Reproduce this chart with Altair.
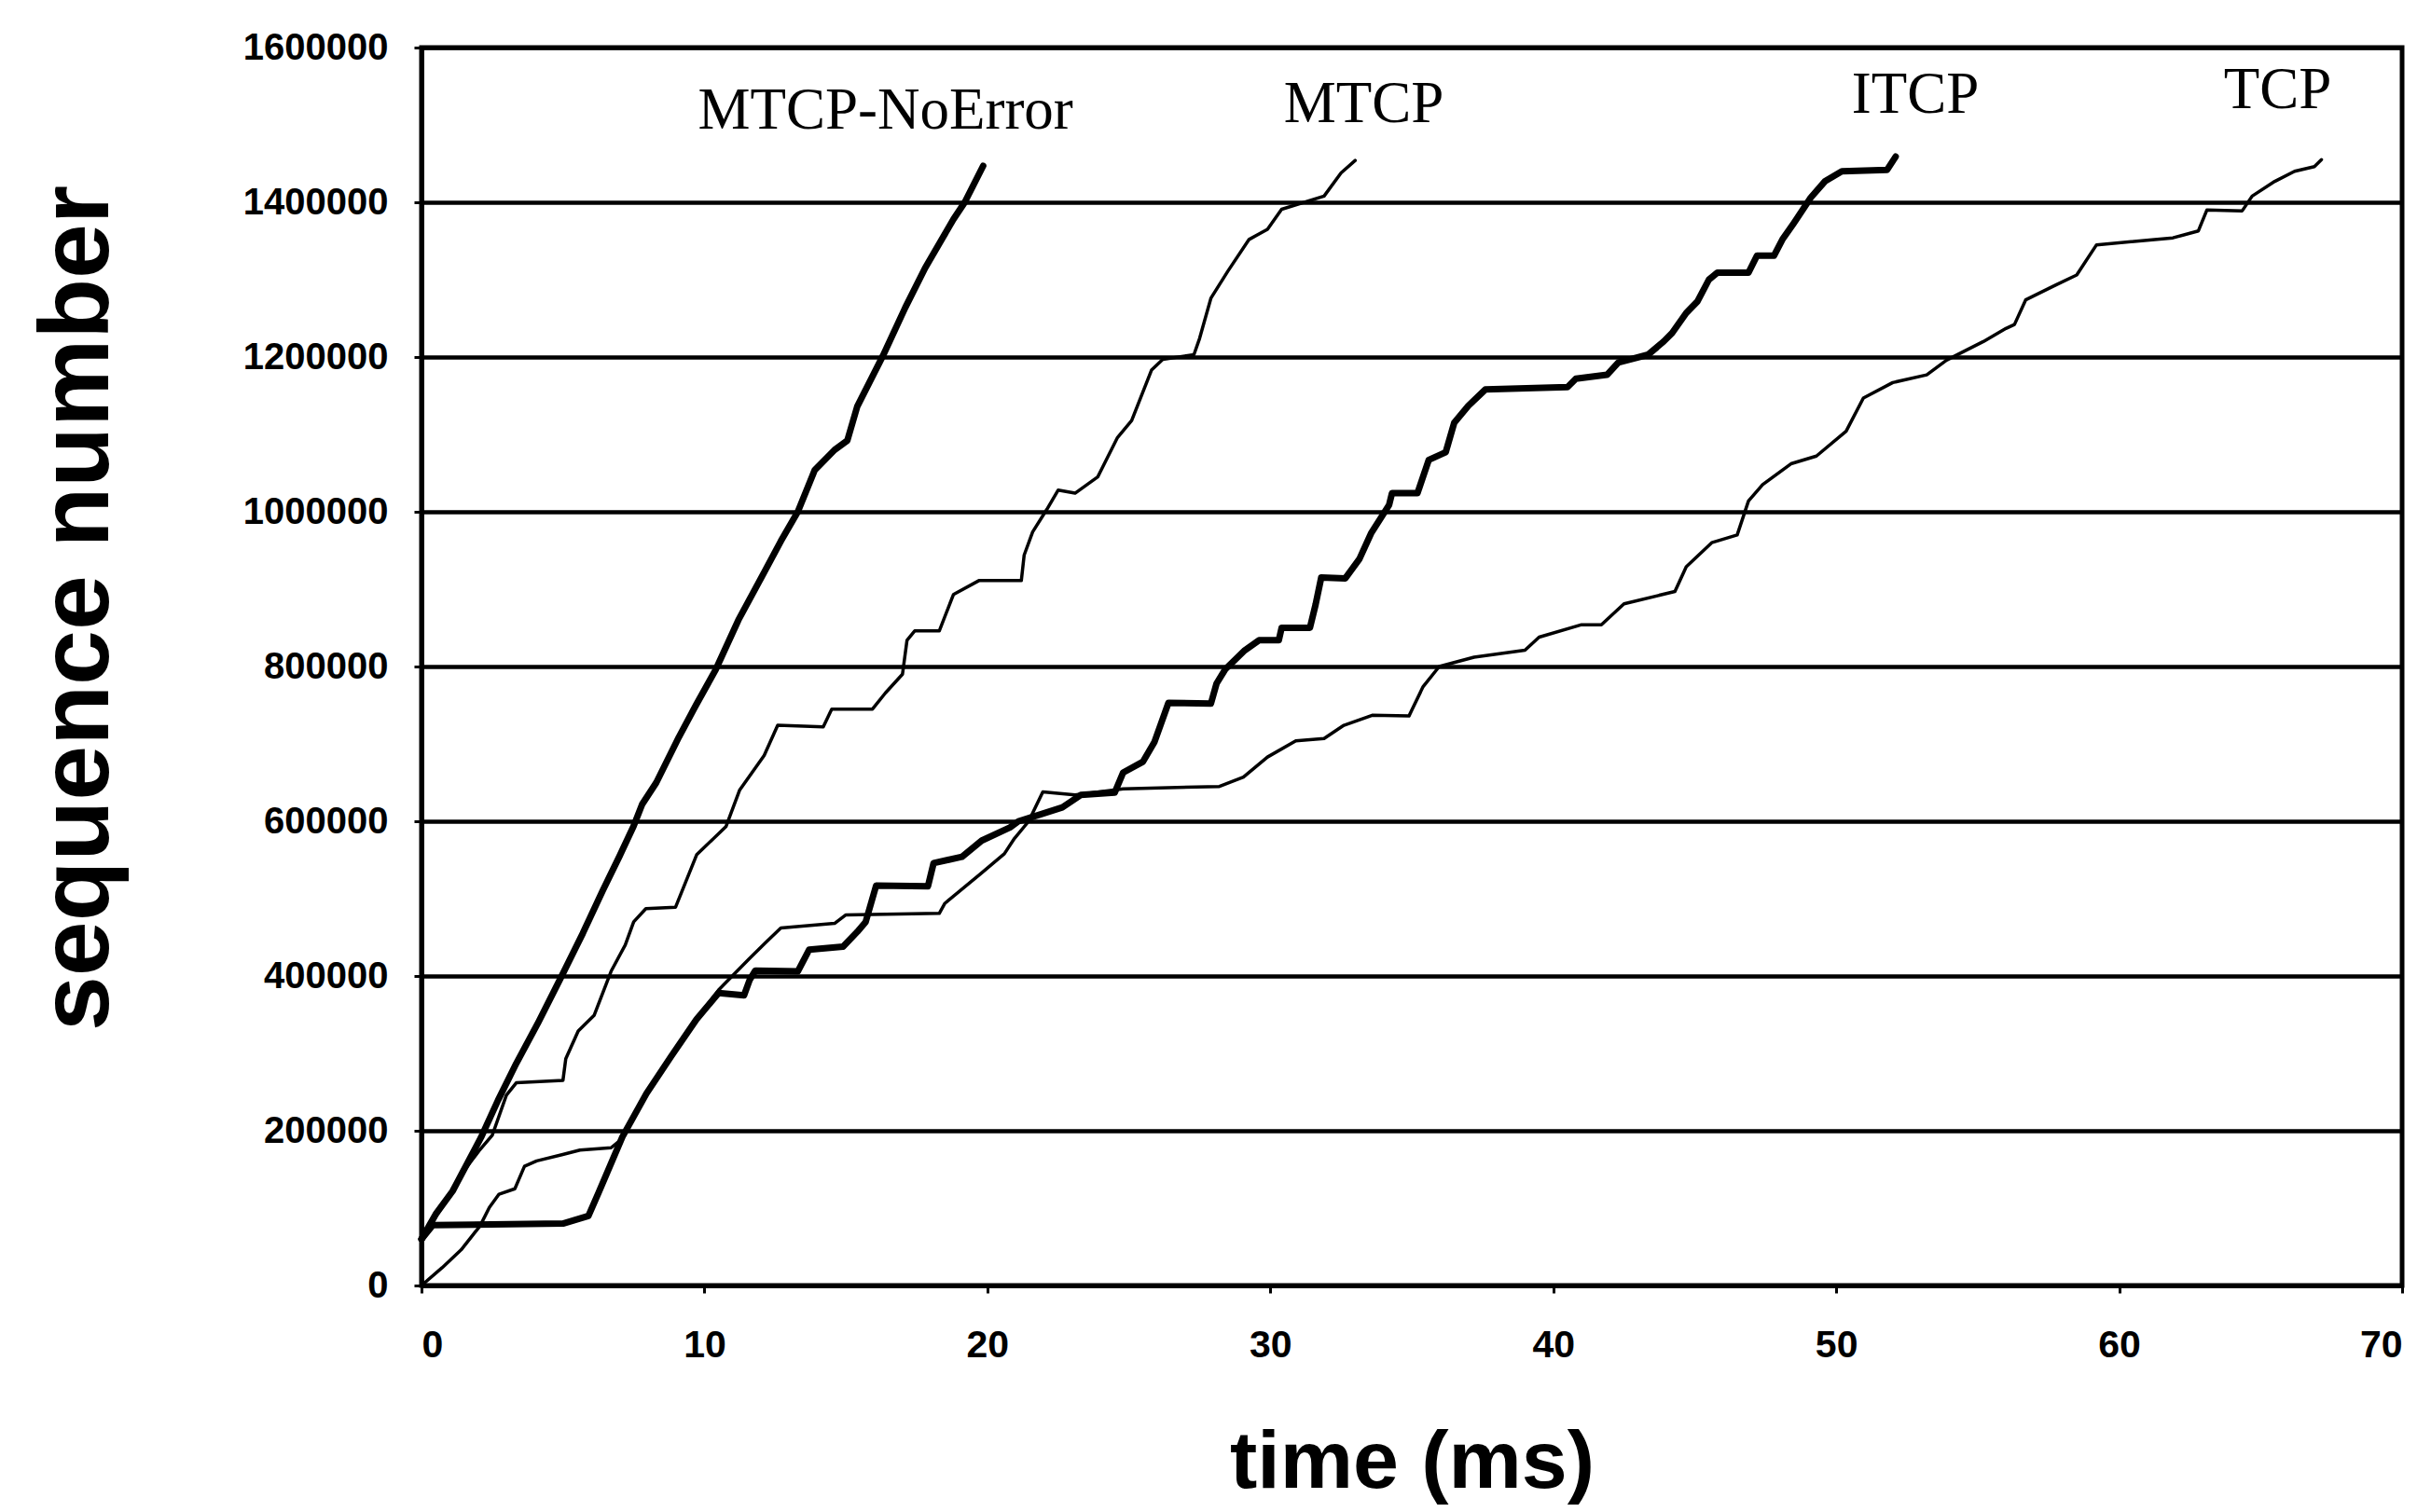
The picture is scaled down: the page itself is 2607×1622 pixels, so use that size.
import altair as alt
import pandas as pd

# ---- data (time in ms, sequence number) ----
noerr_t = [0.0, 0.5, 1.1, 2.1, 2.7, 3.35, 4.1, 4.9, 5.7, 6.4, 7.0, 7.5, 7.8, 8.3, 9.1, 9.7,
           10.4, 11.2, 12.1, 12.7, 13.3, 13.9, 14.6, 15.05, 15.4, 16.3, 17.1, 17.8, 18.8, 19.2, 19.85]
noerr_v = [60000, 92000, 122000, 191000, 239000, 287000, 338000, 396000, 455000, 510000, 555000,
           594000, 622000, 650000, 709000, 750000, 796000, 860000, 921000, 962000, 1000000, 1054000,
           1080000, 1092000, 1136000, 1201000, 1264000, 1315000, 1378000, 1400000, 1447000]

mtcp_t = [0.0, 0.5, 1.0, 1.5, 2.03, 2.5, 3.0, 3.35, 5.0, 5.1, 5.54, 6.1, 6.7, 7.2, 7.5, 7.93, 8.98,
          9.73, 10.76, 11.24, 12.11, 12.59, 14.2, 14.5, 15.94, 16.4, 17.0, 17.16, 17.43, 18.3, 18.8,
          19.7, 21.2, 21.3, 21.6, 22.1, 22.5, 23.1, 23.9, 24.6, 25.1, 25.8, 26.2, 27.3, 27.5, 27.9,
          28.5, 29.25, 29.9, 30.4, 31.9, 32.5, 33.0]
mtcp_v = [55000, 88000, 118000, 148000, 174000, 194000, 246000, 262000, 265000, 293000, 329000,
          349000, 406000, 440000, 470000, 487000, 489000, 557000, 593000, 640000, 685000, 724000,
          722000, 745000, 745000, 766000, 790000, 834000, 846000, 846000, 893000, 911000, 911000,
          944000, 974000, 1003000, 1028000, 1024000, 1045000, 1096000, 1118000, 1183000, 1197000,
          1203000, 1224000, 1276000, 1311000, 1352000, 1365000, 1391000, 1408000, 1438000, 1454000]

itcp_t = [0.0, 0.4, 5.0, 5.9, 6.26, 7.1, 7.95, 8.82, 9.72, 10.5, 11.4, 11.6, 11.8, 13.3, 13.7, 14.9,
          15.4, 15.7, 16.07, 17.9, 18.1, 19.1, 19.8, 20.8, 21.1, 21.8, 22.65, 23.3, 24.5, 24.8, 25.5,
          25.9, 26.4, 27.9, 28.1, 28.4, 29.1, 29.6, 30.3, 30.4, 31.4, 31.6, 31.8, 32.65, 33.15, 33.56,
          34.2, 34.3, 35.2, 35.6, 36.2, 36.5, 37.0, 37.6, 40.5, 40.8, 41.9, 42.3, 43.35, 43.9, 44.2,
          44.7, 45.1, 45.5, 45.8, 46.9, 47.2, 47.8, 48.1, 48.5, 49.1, 49.6, 50.2, 51.8, 52.1]
itcp_v = [60000, 78000, 80000, 90000, 120000, 192000, 248000, 296000, 344000, 378000, 375000,
          395000, 407000, 406000, 434000, 438000, 457000, 470000, 517000, 516000, 546000, 554000,
          575000, 592000, 600000, 608000, 618000, 634000, 637000, 663000, 677000, 702000, 753000,
          752000, 778000, 796000, 821000, 834000, 834000, 850000, 850000, 880000, 915000, 914000,
          939000, 972000, 1009000, 1024000, 1024000, 1067000, 1077000, 1115000, 1137000, 1158000,
          1161000, 1172000, 1177000, 1193000, 1203000, 1220000, 1231000, 1257000, 1272000, 1300000,
          1309000, 1309000, 1331000, 1331000, 1352000, 1373000, 1406000, 1427000, 1440000, 1442000,
          1459000]

tcp_t = [0.0, 0.73, 1.4, 2.07, 2.4, 2.74, 3.3, 3.64, 4.07, 4.96, 5.6, 6.7, 7.04, 7.95, 8.82, 9.72,
         10.5, 10.96, 11.6, 12.16, 12.7, 14.6, 15.0, 18.3, 18.5, 19.76, 20.6, 20.96, 21.46, 21.96,
         23.1, 24.8, 28.2, 29.05, 29.9, 30.9, 31.9, 32.6, 33.6, 34.9, 35.4, 35.97, 37.2, 39.0, 39.5,
         41.0, 41.7, 42.5, 44.3, 44.7, 45.6, 46.5, 46.9, 47.4, 48.4, 49.3, 50.35, 50.96, 52.0, 53.2,
         53.9, 55.2, 56.0, 56.3, 56.7, 57.75, 58.5, 59.2, 61.9, 62.8, 63.1, 64.35, 64.7, 65.5, 66.2,
         66.9, 67.15]
tcp_v = [0, 23000, 46000, 77000, 101000, 118000, 125000, 154000, 161000, 169000, 175000, 178000,
         188000, 248000, 296000, 344000, 382000, 399000, 423000, 443000, 462000, 468000, 479000,
         481000, 494000, 532000, 558000, 578000, 600000, 638000, 634000, 642000, 645000, 657000,
         683000, 704000, 707000, 724000, 737000, 736000, 774000, 800000, 812000, 821000, 838000,
         854000, 854000, 881000, 897000, 929000, 960000, 970000, 1014000, 1035000, 1062000, 1072000,
         1104000, 1147000, 1167000, 1177000, 1196000, 1220000, 1237000, 1242000, 1274000, 1293000,
         1306000, 1345000, 1354000, 1363000, 1390000, 1389000, 1408000, 1427000, 1440000, 1446000,
         1455000]

series_names = ["MTCP-NoError", "MTCP", "ITCP", "TCP"]
label_t = [16.4, 33.3, 52.8, 65.6]
label_v = [1518000, 1526000, 1538000, 1544000]

x_ticks = [0, 10, 20, 30, 40, 50, 60, 70]
y_ticks = [0, 200000, 400000, 600000, 800000, 1000000, 1200000, 1400000, 1600000]

# ---- build tables ----
rows = []
for name, ts, vs in zip(series_names,
                        [noerr_t, mtcp_t, itcp_t, tcp_t],
                        [noerr_v, mtcp_v, itcp_v, tcp_v]):
    for i, (t, v) in enumerate(zip(ts, vs)):
        rows.append({"series": name, "t": t, "v": v, "i": i})
df = pd.DataFrame(rows)
labels = pd.DataFrame({"name": series_names, "t": label_t, "v": label_v})

tick_font = "Liberation Sans"

x_enc = alt.X("t:Q", scale=alt.Scale(domain=[0, 70], nice=False),
              axis=alt.Axis(values=x_ticks, title="time (ms)", grid=False,
                            labelFont=tick_font, labelFontWeight="bold",
                            labelFontSize=41, labelColor="black", labelPadding=36,
                            tickSize=8, tickWidth=3, tickColor="black",
                            domainColor="black", domainWidth=5,
                            titleFont="Liberation Sans", titleFontWeight="bold",
                            titleFontSize=88, titleColor="black", titlePadding=62))
y_enc = alt.Y("v:Q", scale=alt.Scale(domain=[0, 1600000], nice=False),
              axis=alt.Axis(values=y_ticks, format="d", title="sequence number",
                            grid=True, gridColor="black", gridWidth=4.5, gridOpacity=1,
                            labelFont=tick_font, labelFontWeight="bold",
                            labelFontSize=40, labelColor="black", labelPadding=28,
                            tickSize=8, tickWidth=3, tickColor="black",
                            domainColor="black", domainWidth=5,
                            titleFont="Liberation Sans", titleFontWeight="bold",
                            titleFontSize=106, titleColor="black",
                            titleAngle=270, titleAlign="center", titleBaseline="middle",
                            titleX=-369, titleY=601))

lines = alt.Chart(df).mark_line(color="black", strokeJoin="round", strokeCap="round").encode(
    x=x_enc, y=y_enc,
    detail="series:N",
    order="i:Q",
    strokeWidth=alt.StrokeWidth("series:N",
                                scale=alt.Scale(type="ordinal", domain=series_names,
                                                range=[7, 3.5, 7, 3.5]),
                                legend=None),
)

text = alt.Chart(labels).mark_text(font="Liberation Serif", fontSize=63, color="black",
                                   align="center", baseline="middle").encode(
    x="t:Q", y="v:Q", text="name:N")

chart = alt.layer(lines, text).properties(
    width=2124, height=1328,
    autosize=alt.AutoSizeParams(type="none"),
    padding={"left": 444, "top": 43, "right": 20, "bottom": 235},
    background="white",
).configure_view(stroke="black", strokeWidth=5)

chart.save("out.html", embed_options={"renderer": "svg", "actions": False})
